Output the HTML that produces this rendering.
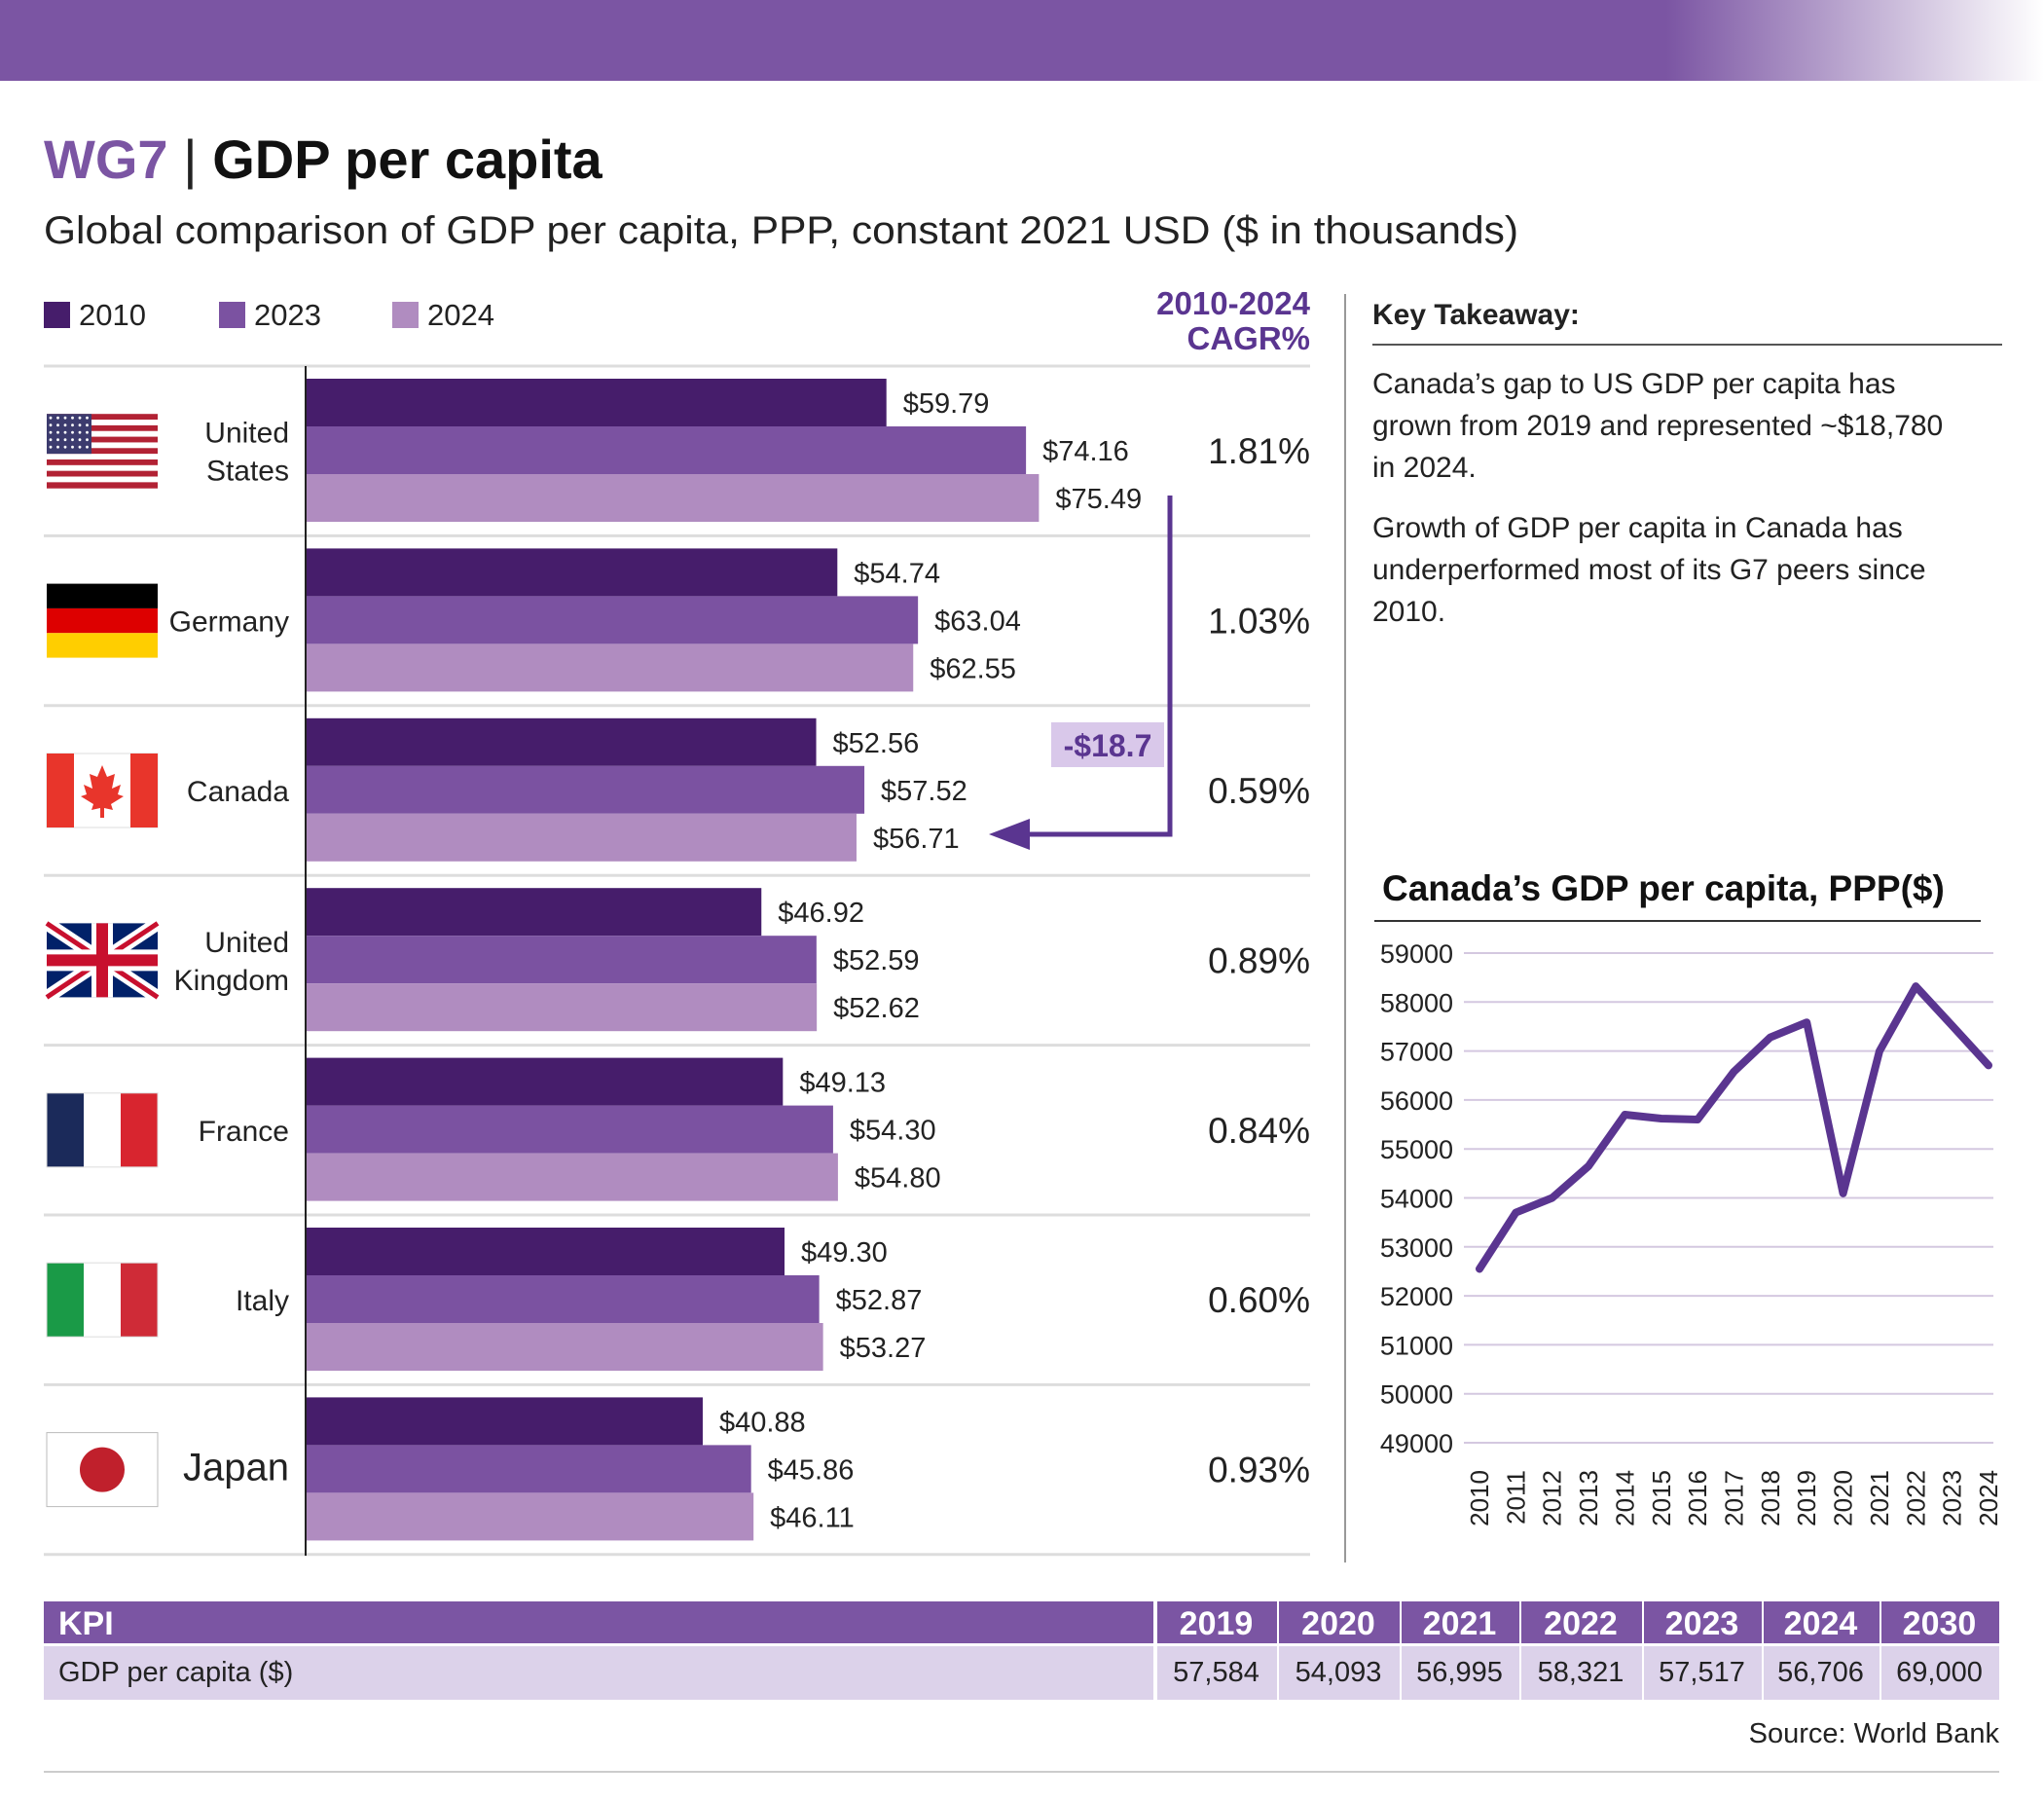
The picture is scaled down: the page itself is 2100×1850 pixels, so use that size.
<!DOCTYPE html>
<html><head><meta charset="utf-8"><style>
html,body{margin:0;padding:0;background:#fff;}
svg{display:block;font-family:"Liberation Sans",sans-serif;}
</style></head><body>
<svg id="root" width="2100" height="1850" viewBox="0 0 2100 1850" xmlns="http://www.w3.org/2000/svg">
<defs>
<linearGradient id="band" x1="0" x2="1" y1="0" y2="0">
<stop offset="0" stop-color="#7b55a3"/><stop offset="0.815" stop-color="#7b55a3"/><stop offset="1" stop-color="#ffffff"/>
</linearGradient>
</defs>
<rect x="0" y="0" width="2100" height="83" fill="url(#band)"/>
<text x="45" y="183" font-size="56" font-weight="bold"><tspan fill="#7b55a3">WG7</tspan><tspan fill="#222" font-weight="normal"> | </tspan><tspan fill="#111">GDP per capita</tspan></text>
<text x="45" y="250" font-size="40" fill="#222" textLength="1515" lengthAdjust="spacingAndGlyphs">Global comparison of GDP per capita, PPP, constant 2021 USD ($ in thousands)</text>

<g>
<rect x="45" y="310" width="27" height="27" fill="#461d6b"/>
<text x="81" y="334" font-size="31" fill="#222">2010</text>
<rect x="225" y="310" width="27" height="27" fill="#7b52a1"/>
<text x="261" y="334" font-size="31" fill="#222">2023</text>
<rect x="403" y="310" width="27" height="27" fill="#b08cc0"/>
<text x="439" y="334" font-size="31" fill="#222">2024</text>
</g>
<text x="1346" y="323" font-size="33" font-weight="bold" fill="#5a3590" text-anchor="end">2010-2024</text>
<text x="1346" y="359" font-size="33" font-weight="bold" fill="#5a3590" text-anchor="end">CAGR%</text>

<g id="bars"></g>

<line x1="1382" y1="302" x2="1382" y2="1605" stroke="#999" stroke-width="2"/>

<text x="1410" y="333" font-size="30" font-weight="bold" fill="#222">Key Takeaway:</text>
<line x1="1410" y1="354" x2="2057" y2="354" stroke="#555" stroke-width="2"/>
<g font-size="30" fill="#222">
<text x="1410" y="404">Canada’s gap to US GDP per capita has</text>
<text x="1410" y="447">grown from 2019 and represented ~$18,780</text>
<text x="1410" y="490">in 2024.</text>
<text x="1410" y="552">Growth of GDP per capita in Canada has</text>
<text x="1410" y="595">underperformed most of its G7 peers since</text>
<text x="1410" y="638">2010.</text>
</g>

<text x="1420" y="925" font-size="37" font-weight="bold" fill="#111">Canada’s GDP per capita, PPP($)</text>
<line x1="1412" y1="946" x2="2035" y2="946" stroke="#333" stroke-width="2"/>
<g id="line"></g>

<g id="table"></g>
<text x="2054" y="1790" font-size="29" fill="#222" text-anchor="end">Source: World Bank</text>
<line x1="45" y1="1820" x2="2054" y2="1820" stroke="#ccc" stroke-width="2"/>
</svg>
<script>
const NS="http://www.w3.org/2000/svg";
const countries=["United States","Germany","Canada","United Kingdom","France","Italy","Japan"];
const v2010=[59.79,54.74,52.56,46.92,49.13,49.30,40.88];
const v2023=[74.16,63.04,57.52,52.59,54.30,52.87,45.86];
const v2024=[75.49,62.55,56.71,52.62,54.80,53.27,46.11];
const cagr=["1.81%","1.03%","0.59%","0.89%","0.84%","0.60%","0.93%"];
const lineYears=[2010,2011,2012,2013,2014,2015,2016,2017,2018,2019,2020,2021,2022,2023,2024];
const lineVals=[52550,53700,54000,54650,55700,55620,55600,56580,57280,57584,54093,56995,58321,57517,56706];
const yTicks=[49000,50000,51000,52000,53000,54000,55000,56000,57000,58000,59000];
const kpiYears=["2019","2020","2021","2022","2023","2024","2030"];
const kpiVals=["57,584","54,093","56,995","58,321","57,517","56,706","69,000"];

function mk(tag,attrs,parent,text){const e=document.createElementNS(NS,tag);for(const k in attrs)e.setAttribute(k,attrs[k]);if(text!==undefined)e.textContent=text;parent.appendChild(e);return e;}

// bar chart
const bars=document.getElementById('bars');
const x0=314,ppu=9.98,rowTop=376,rowH=174.4,barH=49;
const xs=v=>x0+v*ppu;
const seriesVals=[v2010,v2023,v2024];
const seriesCol=["#461d6b","#7b52a1","#b08cc0"];
const seriesName=["2010","2023","2024"];
for(let i=0;i<=countries.length;i++){
  const l=mk('line',{x1:45,x2:1346,y1:rowTop+i*rowH,y2:rowTop+i*rowH,stroke:"#ddd","stroke-width":3},bars);
  
  
}
countries.forEach((c,i)=>{
  const top=rowTop+i*rowH+13;
  for(let s=0;s<3;s++){
    const v=seriesVals[s][i];
    const r=mk('rect',{x:x0,y:top+s*barH,width:xs(v)-x0,height:barH,fill:seriesCol[s]},bars);
    
    
    const t=mk('text',{x:xs(v)+17,y:top+s*barH+35,"font-size":29,fill:"#222"},bars,"$"+v.toFixed(2));
    
    
  }
  const cy=rowTop+i*rowH+rowH/2;
  const ct=mk('text',{x:1346,y:cy+13,"font-size":37,fill:"#222","text-anchor":"end"},bars,cagr[i]);
  
  
  const parts=c==="United States"?["United","States"]:c==="United Kingdom"?["United","Kingdom"]:[c];
  const fs=c==="Japan"?40:30;
  parts.forEach((p,k)=>{
    const yy=cy+11+(k-(parts.length-1)/2)*39;
    const nt=mk('text',{x:297,y:yy,"font-size":fs,fill:"#222","text-anchor":"end"},bars,p);
    
    
  });
  const g=mk('g',{transform:`translate(48,${cy-38})`},bars);
  
  
  drawFlag(c,g);
});
mk('line',{x1:x0,x2:x0,y1:376,y2:1598,stroke:"#222","stroke-width":2},bars);

function drawFlag(c,g){
  const W=114,H=76;
  if(c==="United States"){
    for(let k=0;k<13;k++)mk('rect',{x:0,y:k*H/13,width:W,height:H/13+0.5,fill:k%2?"#fff":"#b22234"},g);
    mk('rect',{x:0,y:0,width:46,height:H*7/13,fill:"#3c3b6e"},g);
    for(let r=0;r<5;r++)for(let q=0;q<6;q++)mk('circle',{cx:4+q*7.5,cy:4+r*7.5,r:1.4,fill:"#fff"},g);
  }else if(c==="Germany"){
    mk('rect',{x:0,y:0,width:W,height:H/3,fill:"#000"},g);
    mk('rect',{x:0,y:H/3,width:W,height:H/3,fill:"#dd0000"},g);
    mk('rect',{x:0,y:2*H/3,width:W,height:H/3,fill:"#ffce00"},g);
  }else if(c==="Canada"){
    mk('rect',{x:0,y:0,width:W,height:H,fill:"#fff",stroke:"#ddd"},g);
    mk('rect',{x:0,y:0,width:28,height:H,fill:"#e8352b"},g);
    mk('rect',{x:86,y:0,width:28,height:H,fill:"#e8352b"},g);
    mk('path',{d:"M57 12 L62 24 L70 21 L67 36 L76 32 L73 42 L79 44 L66 52 L68 58 L59 56 L59 66 L55 66 L55 56 L46 58 L48 52 L35 44 L41 42 L38 32 L47 36 L44 21 L52 24 Z",fill:"#e8352b"},g);
  }else if(c==="United Kingdom"){
    mk('rect',{x:0,y:0,width:W,height:H,fill:"#012169"},g);
    mk('path',{d:`M0 0 L${W} ${H} M${W} 0 L0 ${H}`,stroke:"#fff","stroke-width":14},g);
    mk('path',{d:`M0 0 L${W} ${H} M${W} 0 L0 ${H}`,stroke:"#c8102e","stroke-width":5},g);
    mk('path',{d:`M${W/2} 0 V${H} M0 ${H/2} H${W}`,stroke:"#fff","stroke-width":22},g);
    mk('path',{d:`M${W/2} 0 V${H} M0 ${H/2} H${W}`,stroke:"#c8102e","stroke-width":12},g);
  }else if(c==="France"||c==="Italy"){
    const cols=c==="France"?["#1b2a5a","#fff","#d8252f"]:["#1a9a47","#fff","#cf2b37"];
    cols.forEach((f,k)=>mk('rect',{x:k*W/3,y:0,width:W/3+0.5,height:H,fill:f},g));
    mk('rect',{x:0,y:0,width:W,height:H,fill:"none",stroke:"#ddd"},g);
  }else{
    mk('rect',{x:0,y:0,width:W,height:H,fill:"#fff",stroke:"#bbb"},g);
    mk('circle',{cx:W/2,cy:H/2,r:23,fill:"#c0202c"},g);
  }
}

// gap arrow
const arrow=mk('path',{d:"M1202 509 V857 H1040",fill:"none",stroke:"#5a3590","stroke-width":5},bars);


const ah=mk('path',{d:"M1016 857 L1058 841 L1058 873 Z",fill:"#5a3590"},bars);


const gb=mk('rect',{x:1080,y:742,width:116,height:46,fill:"#d9c8ea"},bars);


const gt=mk('text',{x:1138,y:777,"font-size":32,"font-weight":"bold",fill:"#5a3590","text-anchor":"middle"},bars,"-$18.7");



// line chart
const lg=document.getElementById('line');
const yMin=49000,yMax=59000,py0=1482,py1=979;
const ly=v=>py0+(v-yMin)/(yMax-yMin)*(py1-py0);
const lx0=1520,lx1=2043;
const lx=yr=>lx0+(yr-lineYears[0])/(lineYears[lineYears.length-1]-lineYears[0])*(lx1-lx0);
yTicks.forEach(t=>{
  const gl=mk('line',{x1:1504,x2:2048,y1:ly(t),y2:ly(t),stroke:"#d4c8e0","stroke-width":2},lg);
  
  
  const tl=mk('text',{x:1493,y:ly(t)+10,"font-size":27,fill:"#222","text-anchor":"end"},lg,t);
  
  
});
lineYears.forEach(yr=>{
  const t=mk('text',{x:0,y:0,"font-size":26,fill:"#222","text-anchor":"end",transform:`translate(${lx(yr)+9},1510) rotate(-90)`},lg,yr);
  
  
});
const pl=mk('polyline',{points:lineYears.map((yr,i)=>lx(yr)+","+ly(lineVals[i])).join(" "),fill:"none",stroke:"#5a3590","stroke-width":8,"stroke-linejoin":"round","stroke-linecap":"round"},lg);



// KPI table
const tb=document.getElementById('table');
const colX=[45,1187,1312,1438,1561,1687,1810,1931,2054];
for(let c=0;c<8;c++){
  const x=colX[c]+(c?2:0),w=colX[c+1]-colX[c]-2;
  const h=mk('rect',{x:x,y:1645,width:w,height:43,fill:"#7b55a3"},tb);
  
  
  const r=mk('rect',{x:x,y:1691,width:w,height:55,fill:"#dcd2ea"},tb);
  
  
  const label=c===0?"KPI":kpiYears[c-1];
  const ht=mk('text',{x:c===0?60:(colX[c]+colX[c+1])/2,y:1679,"font-size":34,"font-weight":"bold",fill:"#fff","text-anchor":c===0?"start":"middle"},tb,label);
  
  
  const bt=mk('text',{x:c===0?60:(colX[c]+colX[c+1])/2,y:1727,"font-size":29,fill:"#222","text-anchor":c===0?"start":"middle"},tb,c===0?"GDP per capita ($)":kpiVals[c-1]);
  
  
}
</script>
</body></html>
